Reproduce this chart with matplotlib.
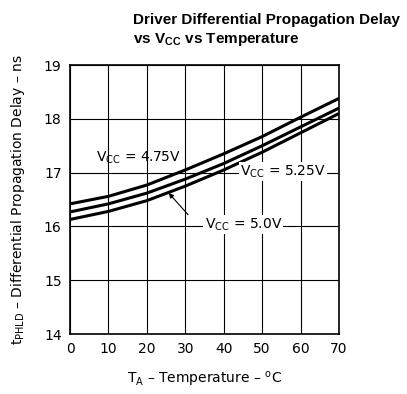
import matplotlib
matplotlib.use('Agg')
import matplotlib.pyplot as plt

# Temperature axis (deg C) and delay curves (ns)
temps = [0, 10, 20, 30, 40, 50, 60, 70]
delay_475 = [16.42, 16.56, 16.77, 17.05, 17.35, 17.67, 18.03, 18.38]
delay_500 = [16.27, 16.42, 16.62, 16.88, 17.17, 17.50, 17.85, 18.20]
delay_525 = [16.13, 16.28, 16.48, 16.75, 17.05, 17.38, 17.74, 18.10]

x_ticks = [0, 10, 20, 30, 40, 50, 60, 70]
y_ticks = [14, 15, 16, 17, 18, 19]

fig = plt.figure(figsize=(4.07, 3.94), dpi=100)
ax = fig.add_axes([0.172, 0.152, 0.661, 0.683])

for d in (delay_475, delay_500, delay_525):
    ax.plot(temps, d, color='black', lw=2.2, solid_capstyle='butt', zorder=3)

ax.set_xlim(0, 70)
ax.set_ylim(14, 19)
ax.set_xticks(x_ticks)
ax.set_yticks(y_ticks)
ax.grid(True, color='black', lw=0.8)
ax.tick_params(length=0, labelsize=10, pad=6)
for s in ax.spines.values():
    s.set_linewidth(1.2)

# curve labels (white box hides the grid line behind the text)
box = dict(facecolor='white', edgecolor='none', pad=1)
ax.text(6.8, 17.28, r'$\mathregular{V_{CC}}$ = 4.75V', fontsize=10, va='center', ha='left', zorder=4)
ax.text(44.3, 17.02, r'$\mathregular{V_{CC}}$ = 5.25V', fontsize=10, va='center', ha='left', bbox=box, zorder=4)
ax.text(35.0, 16.03, r'$\mathregular{V_{CC}}$ = 5.0V', fontsize=10, va='center', ha='left', bbox=box, zorder=4)
ax.annotate('', xy=(25.2, 16.66), xytext=(31.2, 16.18),
            arrowprops=dict(arrowstyle='-|>', color='black', lw=0.8, mutation_scale=7), zorder=4)

ax.set_xlabel(r'$\mathregular{T_A}$ – Temperature – $\mathregular{^oC}$', fontsize=10, labelpad=10)
ax.set_ylabel(r'$\mathregular{t_{PHLD}}$ – Differential Propagation Delay – ns', fontsize=10, labelpad=12)

fig.text(0.327, 0.966, 'Driver Differential Propagation Delay\nvs $\\mathregular{V_{CC}}$ vs Temperature',
         family='Liberation Sans', fontweight='bold', fontsize=11, ha='left', va='top', linespacing=1.3)

fig.savefig('out.png', dpi=100)
